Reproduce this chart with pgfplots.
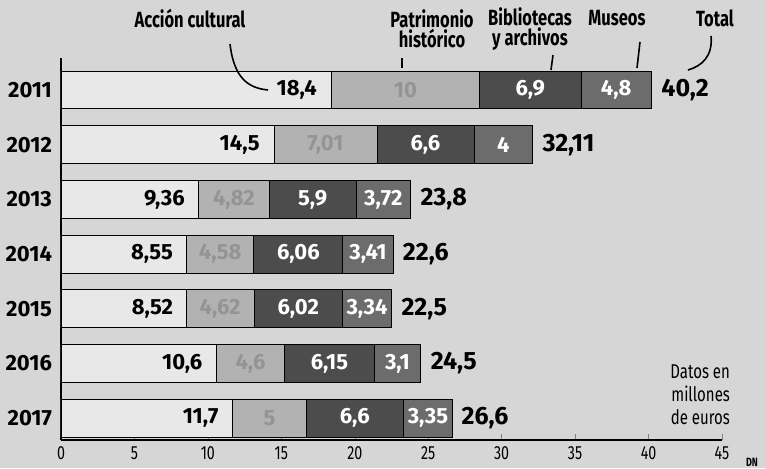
\documentclass[border=0pt]{standalone}
\usepackage{pgfplots}
\pgfplotsset{compat=1.18}
\usepackage{fontspec}
\setmainfont{Fira Sans}[FakeStretch=0.75]
\newfontfamily\numf{Fira Sans}

\definecolor{fondo}{HTML}{D6D6D6}
\definecolor{accion}{HTML}{E8E8E8}
\definecolor{patri}{HTML}{B2B2B2}
\definecolor{biblio}{HTML}{4C4C4C}
\definecolor{museo}{HTML}{6C6C6C}

\tikzset{
  hdr/.style={font=\bfseries\fontsize{11}{10}\selectfont},
  va/.style={font=\numf\bfseries\fontsize{11}{11}\selectfont, anchor=east},
  vp/.style={font=\numf\bfseries\fontsize{11}{11}\selectfont, text=black!42},
  vw/.style={font=\numf\bfseries\fontsize{11}{11}\selectfont, text=white},
  tot/.style={font=\numf\bfseries\fontsize{12.5}{12.5}\selectfont, anchor=west},
}
\pgfplotsset{
  marco/.style={
    at={(30.5pt,14pt)}, anchor=south west,
    width=330.5pt, height=191pt, scale only axis,
    xmin=0, xmax=45, ymin=-0.40, ymax=6.585,
  },
}

\begin{document}
\begin{tikzpicture}
\fill[fondo] (0,0) rectangle (383pt,234pt);
\path[use as bounding box] (0,0) rectangle (383pt,234pt);

\begin{axis}[
    marco,
    xbar stacked, bar width=0.69,
    axis x line*=bottom, axis y line*=left,
    axis line style={line width=0.7pt},
    xtick={0,5,...,45}, ytick={0,...,6},
    yticklabels={2017,2016,2015,2014,2013,2012,2011},
    tick align=inside, major tick length=3pt,
    ytick style={draw=none},
    /pgf/number format/assume math mode=true,
    xticklabel style={font=\fontsize{9.5}{9.5}\selectfont},
    yticklabel style={font=\numf\bfseries\fontsize{11}{11}\selectfont, xshift=-1pt},
]
% Accion cultural
\addplot[fill=accion, draw=black] coordinates {(18.4,6) (14.5,5) (9.36,4) (8.55,3) (8.52,2) (10.6,1) (11.7,0)};
% Patrimonio historico
\addplot[fill=patri, draw=black] coordinates {(10.1,6) (7.01,5) (4.82,4) (4.58,3) (4.62,2) (4.6,1) (5,0)};
% Bibliotecas y archivos
\addplot[fill=biblio, draw=black] coordinates {(6.9,6) (6.6,5) (5.9,4) (6.06,3) (6.02,2) (6.15,1) (6.6,0)};
% Museos
\addplot[fill=museo, draw=black] coordinates {(4.8,6) (4,5) (3.72,4) (3.41,3) (3.34,2) (3.1,1) (3.35,0)};
\end{axis}

% segundo eje, solo para las etiquetas encima de las barras
\begin{axis}[marco, hide axis, clip=false]
\node[va] at (axis cs:17.9,6) {18,4};
\node[va] at (axis cs:14.0,5) {14,5};
\node[va] at (axis cs:8.9,4) {9,36};
\node[va] at (axis cs:8.1,3) {8,55};
\node[va] at (axis cs:8.1,2) {8,52};
\node[va] at (axis cs:10.1,1) {10,6};
\node[va] at (axis cs:11.2,0) {11,7};

\node[vp] at (axis cs:23.45,6) {10};
\node[vp] at (axis cs:18.0,5) {7,01};
\node[vp] at (axis cs:11.77,4) {4,82};
\node[vp] at (axis cs:10.84,3) {4,58};
\node[vp] at (axis cs:10.83,2) {4,62};
\node[vp] at (axis cs:12.9,1) {4,6};
\node[vp] at (axis cs:14.2,0) {5};

\node[vw] at (axis cs:31.95,6) {6,9};
\node[vw] at (axis cs:24.81,5) {6,6};
\node[vw] at (axis cs:17.13,4) {5,9};
\node[vw] at (axis cs:16.16,3) {6,06};
\node[vw] at (axis cs:16.15,2) {6,02};
\node[vw] at (axis cs:18.28,1) {6,15};
\node[vw] at (axis cs:20.0,0) {6,6};
\node[vw] at (axis cs:37.8,6) {4,8};
\node[vw] at (axis cs:30.11,5) {4};
\node[vw] at (axis cs:21.94,4) {3,72};
\node[vw] at (axis cs:20.9,3) {3,41};
\node[vw] at (axis cs:20.83,2) {3,34};
\node[vw] at (axis cs:22.9,1) {3,1};
\node[vw] at (axis cs:24.98,0) {3,35};

\node[tot] at (axis cs:40.4,6) {40,2};
\node[tot] at (axis cs:32.3,5) {32,11};
\node[tot] at (axis cs:24.0,4) {23,8};
\node[tot] at (axis cs:22.8,3) {22,6};
\node[tot] at (axis cs:22.7,2) {22,5};
\node[tot] at (axis cs:24.7,1) {24,5};
\node[tot] at (axis cs:26.8,0) {26,6};
\end{axis}

% cabecera y notas, en pixeles de la imagen
\begin{scope}[x=0.5pt, y=-0.5pt, yshift=234pt]
\node[hdr] at (190,18) {Acción cultural};
\node[hdr, align=center] at (432,29) {Patrimonio\\histórico};
\node[hdr, align=center] at (530,29) {Bibliotecas\\y archivos};
\node[hdr] at (617,18) {Museos};
\node[hdr] at (715,18) {Total};
\draw[line width=0.8pt] (230,44) .. controls (234,78) and (248,88) .. (268,90);
\draw[line width=0.8pt] (402,58) -- (402,68);
\draw[line width=0.8pt] (553,55) -- (551,70);
\draw[line width=0.8pt] (640,42) -- (637,68);
\draw[line width=0.8pt] (711,36) .. controls (713,56) and (702,66) .. (688,70);
\node[font=\fontsize{10}{11.5}\selectfont, align=right, anchor=north east] at (737,358) {Datos en\\millones\\de euros};
\node[font=\bfseries\fontsize{6}{6}\selectfont, anchor=east] at (765,462) {DN};
\end{scope}
\end{tikzpicture}
\end{document}
